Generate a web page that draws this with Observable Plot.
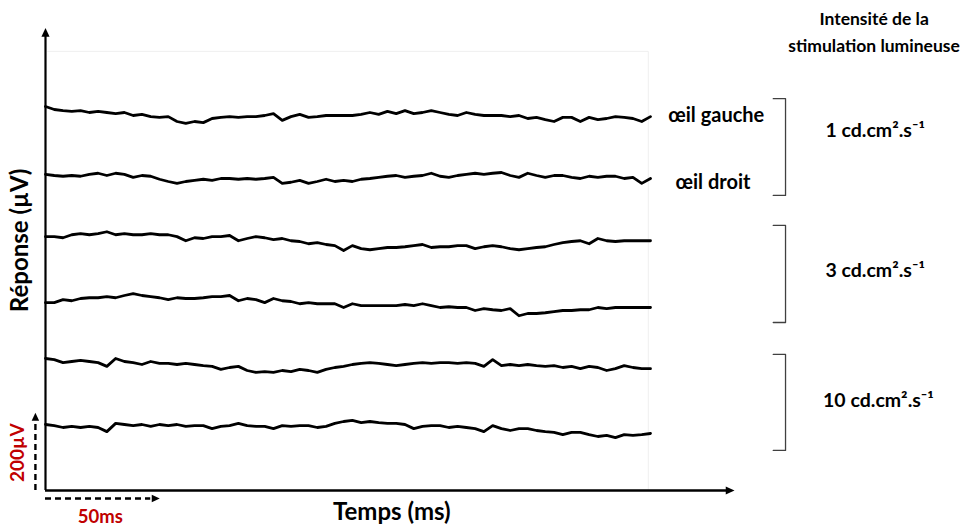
<!DOCTYPE html>
<html>
<head>
<meta charset="utf-8">
<script src="https://cdn.jsdelivr.net/npm/d3@7"></script>
<script src="https://cdn.jsdelivr.net/npm/@observablehq/plot@0.6"></script>
<style>
  html, body { margin: 0; padding: 0; background: white; overflow: hidden; }
</style>
</head>
<body>
<div id="chart"></div>
<script>
// Time grid (ms) — one sample every 4 ms
const times = d3.range(0, 277, 4);

// Trace display offsets (µV) — stacking baselines, top to bottom
const offsets = [1024, 843, 677, 501, 352, 176];
const traceNames = ["1 cd — œil gauche", "1 cd — œil droit", "3 cd — œil gauche", "3 cd — œil droit", "10 cd — œil gauche", "10 cd — œil droit"];

// Responses (µV, deviation from each baseline)
const int1Gauche = [0,-8,-11,-13,-11,-16,-13,-16,-19,-16, -24,-21,-27,-29,-27,-40,-45,-40,-43,-32, -29,-27,-29,-27,-27,-24,-19,-37,-27,-21, -29,-27,-24,-24,-24,-24,-21,-16,-21,-13, -19,-11,-19,-16,-11,-16,-21,-24,-16,-21, -24,-24,-24,-27,-24,-32,-29,-35,-40,-29, -29,-40,-29,-35,-32,-27,-29,-32,-40,-27];
const int1Droit = [0,-3,-5,-3,-5,0,3,-3,3,0, -8,-3,-5,-13,-19,-24,-19,-16,-13,-16, -11,-11,-13,-11,-13,-11,-8,-24,-21,-16, -24,-19,-13,-19,-16,-19,-13,-11,-8,-5, -3,-8,-5,-3,3,-5,-8,-3,0,3, 0,3,5,-3,-8,3,-3,-8,-3,-3, -8,-11,-5,-8,-5,-5,-11,-8,-24,-11];
const int3Gauche = [0,0,-3,5,8,5,8,13,5,8, 5,5,8,5,5,0,-11,-3,-5,0, 0,3,-11,-5,0,-3,-8,-5,-11,-13, -19,-16,-21,-24,-37,-24,-32,-35,-32,-29, -29,-27,-24,-21,-29,-27,-27,-24,-24,-32, -27,-24,-27,-32,-35,-32,-29,-27,-21,-16, -13,-11,-19,-5,-11,-13,-11,-11,-11,-11];
const int3Droit = [0,0,8,5,11,13,13,16,13,19, 24,19,16,13,8,13,11,11,13,16, 16,19,5,11,8,0,11,5,3,-3, 0,-3,-3,-3,-13,-3,-8,-8,-8,-8, -8,-5,-8,-3,-8,-13,-11,-13,-13,-21, -16,-19,-21,-16,-35,-29,-29,-27,-24,-21, -21,-19,-19,-13,-16,-13,-13,-13,-13,-13];
const int10Gauche = [0,-3,-11,-8,-5,-8,-11,-21,0,-8, -11,-16,-8,-13,-13,-16,-13,-16,-19,-21, -29,-24,-21,-32,-37,-35,-37,-32,-35,-29, -32,-37,-29,-24,-21,-16,-13,-11,-13,-16, -19,-16,-13,-11,-13,-11,-11,-13,-11,-13, -21,-3,-19,-16,-19,-16,-19,-21,-19,-24, -21,-27,-21,-24,-32,-27,-19,-24,-27,-27];
const int10Droit = [0,-3,-8,-5,-8,-5,-8,-19,3,0, -3,0,-5,0,-3,0,-5,-3,-3,-11, -5,-3,3,-3,-5,-5,-11,-3,-5,-3, -3,-8,-5,3,8,11,5,8,5,3, 3,0,-11,-5,-3,-3,-8,-5,-8,-11, -19,-3,-11,-16,-11,-11,-16,-19,-21,-27, -21,-21,-27,-32,-29,-35,-27,-29,-27,-24];

const series = [int1Gauche, int1Droit, int3Gauche, int3Droit, int10Gauche, int10Droit];

// Labels
const eyeLabels = ["œil gauche", "œil droit"];
const intensityLabels = ["1 cd.cm².s⁻¹", "3 cd.cm².s⁻¹", "10 cd.cm².s⁻¹"];
const headerLabel = "Intensité de la\nstimulation lumineuse";
const yLabel = "Réponse (µV)";
const xLabel = "Temps (ms)";
const scaleV = 200;   // µV
const scaleT = 50;    // ms

const data = series.flatMap((vals, i) =>
  vals.map((d, k) => ({t: times[k], v: offsets[i] + d, name: traceNames[i]})));

// bracket spans (µV)
const brackets = [
  {top: 1045, bottom: 787},
  {top: 707, bottom: 448},
  {top: 363, bottom: 107}
];
const bracketPaths = brackets.flatMap((b, i) => [
  {t: 332, v: b.top, g: i}, {t: 337.6, v: b.top, g: i},
  {t: 337.6, v: b.bottom, g: i}, {t: 332, v: b.bottom, g: i}
]);

const triUp = {draw(c, size) { const r = Math.sqrt(size) / 2; c.moveTo(0, -r * 1.25); c.lineTo(r, r * 0.9); c.lineTo(-r, r * 0.9); c.closePath(); }};
const triRight = {draw(c, size) { const r = Math.sqrt(size) / 2; c.moveTo(r * 1.25, 0); c.lineTo(-r * 0.9, r); c.lineTo(-r * 0.9, -r); c.closePath(); }};

const font = "Lato, 'Noto Sans', sans-serif";
const red = "#c00000";

const chart = Plot.plot({
  width: 978,
  height: 526,
  marginLeft: 45,
  marginRight: 328,
  marginTop: 30,
  marginBottom: 36,
  x: {domain: [0, 276], axis: null},
  y: {domain: [0, 1226.67], axis: null},
  style: {fontFamily: font, background: "white", overflow: "visible"},
  marks: [
    // faint frame
    Plot.line([{t: 1, v: 1171}, {t: 275, v: 1171}, {t: 275, v: 0}], {x: "t", y: "v", stroke: "#efefef", strokeWidth: 1}),
    // traces
    Plot.line(data, {x: "t", y: "v", z: "name", stroke: "black", strokeWidth: 2.8, strokeLinejoin: "round"}),
    // axes
    Plot.ruleX([0], {y1: 0, y2: 1214, stroke: "black", strokeWidth: 2.2}),
    Plot.dot([{t: 0, v: 1220}], {x: "t", y: "v", symbol: triUp, r: 4.6, fill: "black", stroke: null}),
    Plot.ruleY([0], {x1: 0, x2: 312, stroke: "black", strokeWidth: 2.6}),
    Plot.dot([{t: 312, v: 0}], {x: "t", y: "v", symbol: triRight, r: 4.6, fill: "black", stroke: null}),
    // scale bars
    Plot.ruleX([-4.6], {y1: 0, y2: scaleV - 8, stroke: "black", strokeWidth: 2.4, strokeDasharray: "6,4"}),
    Plot.dot([{t: -4.6, v: scaleV - 5}], {x: "t", y: "v", symbol: triUp, r: 4.2, fill: "black", stroke: null}),
    Plot.ruleY([-21.3], {x1: 0, x2: scaleT - 2, stroke: "black", strokeWidth: 2.4, strokeDasharray: "6,4"}),
    Plot.dot([{t: scaleT, v: -21.3}], {x: "t", y: "v", symbol: triRight, r: 4.2, fill: "black", stroke: null}),
    Plot.text([`${scaleV}µV`], {x: -12.8, y: 101, rotate: -90, fill: red, fontSize: 19, fontWeight: "bold", fontFamily: font}),
    Plot.text([`${scaleT}ms`], {x: 25, y: -72, fill: red, fontSize: 18.5, fontWeight: "bold", fontFamily: font}),
    // axis labels
    Plot.text([yLabel], {x: -11.4, y: 667, rotate: -90, fill: "black", fontSize: 24, fontWeight: "bold", fontFamily: font}),
    Plot.text([xLabel], {x: 158, y: -59, fill: "black", fontSize: 24, fontWeight: "bold", fontFamily: font}),
    // brackets
    Plot.line(bracketPaths, {x: "t", y: "v", z: "g", stroke: "#404040", strokeWidth: 1.3}),
    // eye labels
    Plot.text(eyeLabels, {x: [306, 304.5], y: [1000, 821], fill: "black", fontSize: 20, fontWeight: "bold", fontFamily: font}),
    // intensity labels
    Plot.text(intensityLabels, {x: [378.5, 378.5, 380], y: [960, 587, 240], fill: "black", fontSize: 19.5, fontWeight: "bold", fontFamily: font}),
    // header
    Plot.text([headerLabel], {x: 378, y: 1228, fill: "black", fontSize: 17.5, fontWeight: "bold", fontFamily: font, lineHeight: 1.54})
  ]
});
document.getElementById("chart").appendChild(chart);
</script>
</body>
</html>
